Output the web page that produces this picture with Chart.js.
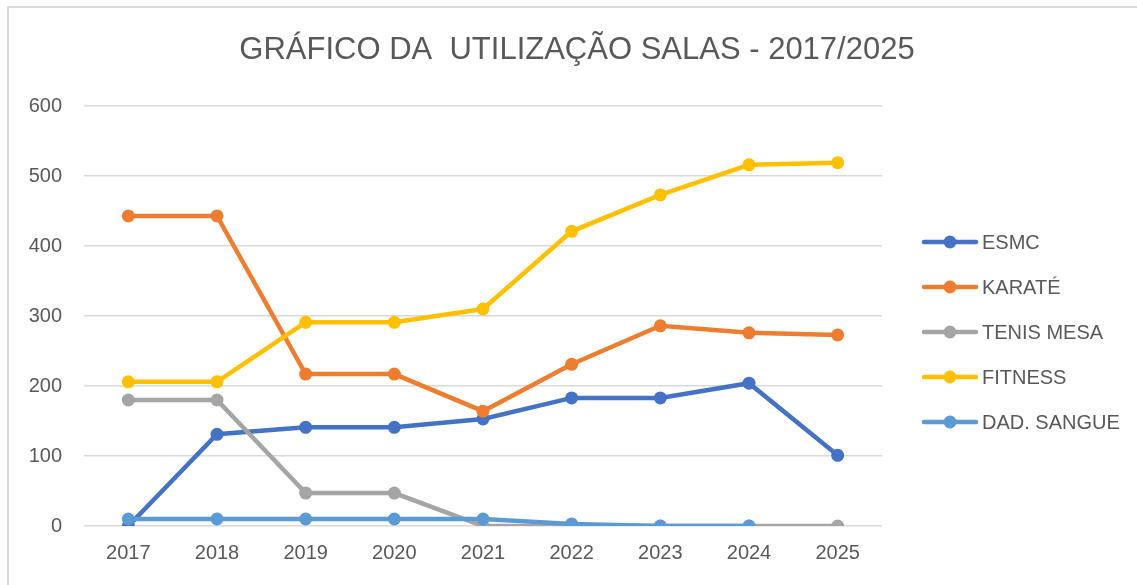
<!DOCTYPE html>
<html>
<head>
<meta charset="utf-8">
<script src="https://cdn.jsdelivr.net/npm/chart.js@4"></script>
<style>
  html, body { margin: 0; padding: 0; background: #fff; }
  #wrap { position: relative; width: 1137px; height: 585px; }
  #frame { position: absolute; left: 7px; top: 6px; width: 1140px; height: 600px; border-left: 2px solid #d9d9d9; border-top: 2px solid #d9d9d9; box-sizing: border-box; pointer-events: none; }
  canvas { display: block; }
</style>
</head>
<body>
<div id="wrap">
  <canvas id="c" width="1137" height="585"></canvas>
  <div id="frame"></div>
</div>
<script>
const titleText = 'GRÁFICO DA  UTILIZAÇÃO SALAS - 2017/2025';
const categories = ['2017', '2018', '2019', '2020', '2021', '2022', '2023', '2024', '2025'];
const seriesNames = ['ESMC', 'KARATÉ', 'TENIS MESA', 'FITNESS', 'DAD. SANGUE'];
const esmc = [0, 131, 141, 141, 153, 183, 183, 204, 101];
const karate = [443, 443, 217, 217, 164, 231, 286, 276, 273];
const tenisMesa = [180, 180, 47, 47, 0, 0, 0, 0, 0];
const fitness = [206, 206, 291, 291, 310, 421, 473, 516, 519];
const dadSangue = [10, 10, 10, 10, 10, 3, 0, 0, null];
const yTicks = [0, 100, 200, 300, 400, 500, 600];

const seriesValues = [esmc, karate, tenisMesa, fitness, dadSangue];
const colors = ['#4472C4', '#ED7D31', '#A5A5A5', '#FFC000', '#5B9BD5'];
const FONT = "'Liberation Sans', Arial, sans-serif";
const TEXT = '#595959';

const datasets = seriesNames.map((name, i) => ({
  label: name,
  data: seriesValues[i],
  borderColor: colors[i],
  backgroundColor: colors[i],
  borderWidth: 4.5,
  pointRadius: 6.5,
  pointHoverRadius: 6.5,
  pointBorderWidth: 0,
  tension: 0,
  spanGaps: false,
  order: seriesNames.length - i
}));

const decor = {
  id: 'decor',
  afterDraw(chart) {
    const ctx = chart.ctx;
    ctx.save();
    // title
    ctx.fillStyle = TEXT;
    ctx.font = "31px 'Liberation Sans Narrow', 'Liberation Sans', sans-serif";
    ctx.textAlign = 'center';
    ctx.textBaseline = 'middle';
    ctx.fillText(titleText, 577, 50);
    // legend
    ctx.font = '20px ' + FONT;
    ctx.textAlign = 'left';
    seriesNames.forEach((name, i) => {
      const y = 242 + i * 45;
      ctx.strokeStyle = colors[i];
      ctx.lineWidth = 4.5;
      ctx.lineCap = 'round';
      ctx.beginPath();
      ctx.moveTo(924, y);
      ctx.lineTo(976, y);
      ctx.stroke();
      ctx.fillStyle = colors[i];
      ctx.beginPath();
      ctx.arc(950, y, 6.5, 0, Math.PI * 2);
      ctx.fill();
      ctx.fillStyle = TEXT;
      ctx.fillText(name, 982, y + 1);
    });
    ctx.restore();
  }
};

new Chart(document.getElementById('c'), {
  type: 'line',
  data: { labels: categories, datasets },
  options: {
    responsive: false,
    animation: false,
    events: [],
    layout: { padding: { left: 8, top: 106, right: 255, bottom: 0 } },
    plugins: { legend: { display: false }, title: { display: false }, tooltip: { enabled: false } },
    scales: {
      x: {
        offset: true,
        grid: { display: false, drawTicks: false },
        border: { display: false },
        ticks: { color: TEXT, font: { family: FONT, size: 20 }, padding: 15, maxRotation: 0 },
        afterFit(s) { s.height = 59; }
      },
      y: {
        min: 0, max: 600,
        afterBuildTicks(s) { s.ticks = yTicks.map(v => ({ value: v })); },
        grid: { color: '#d9d9d9', lineWidth: 1.5, drawTicks: false },
        border: { display: false },
        ticks: { color: TEXT, font: { family: FONT, size: 20 }, padding: 22 },
        afterFit(s) { s.width = 76; }
      }
    }
  },
  plugins: [decor]
});
</script>
</body>
</html>
